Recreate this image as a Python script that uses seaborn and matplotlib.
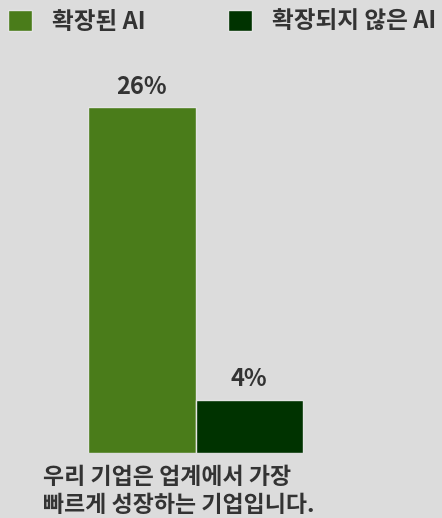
import matplotlib
matplotlib.use('Agg')
import pandas as pd
import matplotlib.pyplot as plt
import seaborn as sns

sns.set_theme(style='white')
plt.rcParams['font.family'] = ['Noto Sans CJK KR', 'DejaVu Sans']

categories = ['우리 기업은 업계에서 가장\n빠르게 성장하는 기업입니다.']
series = ['확장된 AI', '확장되지 않은 AI']
values = [26, 4]
colors = ['#4a7c1a', '#003300']
bg = '#dcdcdc'
text_color = '#333333'

df = pd.DataFrame({'category': categories * len(series),
                   'series': series,
                   'value': values})

fig = plt.figure(figsize=(4.42, 5.18), dpi=100, facecolor=bg)
ax = fig.add_axes([0, 65 / 518, 1, (453 - 60) / 518])
ax.set_facecolor(bg)

sns.barplot(data=df, x='category', y='value', hue='series', palette=colors,
            saturation=1, width=0.8, edgecolor='#e4e4e4', linewidth=1, ax=ax)

# scale: bar group from px 88..303
px_per_unit = 215 / 0.8
ax.set_xlim(-195.5 / px_per_unit, (442 - 195.5) / px_per_unit)
ax.set_ylim(0, 26 * (453 - 60) / 346)

for cont, v in zip(ax.containers, values):
    ax.bar_label(cont, labels=[f'{v}%'], padding=6, fontsize=17,
                 fontweight='bold', color=text_color)

ax.set_xticks([])
ax.set_yticks([])
ax.set_xlabel('')
ax.set_ylabel('')
sns.despine(ax=ax, left=True, bottom=True)

fig.text(43 / 442, 1 - 466 / 518, categories[0], ha='left', va='top',
         fontsize=16.5, color=text_color, fontweight='bold', linespacing=1.28)

sns.move_legend(ax, loc='upper left', bbox_to_anchor=(8 / 442, 1 - 10 / 518),
                bbox_transform=fig.transFigure, ncol=2, frameon=False,
                title=None, fontsize=17, handlelength=1.0, handleheight=1.0,
                handletextpad=0.85, columnspacing=3.5, borderpad=0,
                borderaxespad=0)
for t in ax.get_legend().get_texts():
    t.set_color(text_color)
    t.set_fontweight('bold')

fig.savefig('out.png', dpi=100, facecolor=bg)
